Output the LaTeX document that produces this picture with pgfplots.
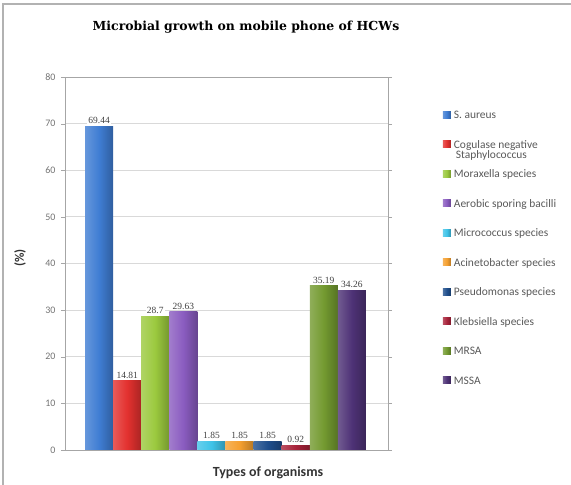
\documentclass[border=0pt]{standalone}
\usepackage{pgfplots}
\pgfplotsset{compat=1.18}
\usepackage{fontspec}
\setmainfont{Carlito}
\newfontfamily\titlefont{DejaVu Serif}
\newfontfamily\labfont{Liberation Serif}
\definecolor{c1}{HTML}{3F7DD3}
\definecolor{c2}{HTML}{E3312F}
\definecolor{c3}{HTML}{9BC93E}
\definecolor{c4}{HTML}{8A5CC0}
\definecolor{c5}{HTML}{3FC3E8}
\definecolor{c6}{HTML}{F5A030}
\definecolor{c7}{HTML}{1F4E8C}
\definecolor{c8}{HTML}{A8233A}
\definecolor{c9}{HTML}{739A30}
\definecolor{c10}{HTML}{4E3276}
\pgfplotsset{bstyle/.style={left color=#1!80!white, right color=#1!75!black, middle color=#1}}
\begin{document}
\begin{tikzpicture}[x=1bp,y=1bp]
\useasboundingbox (0,0) rectangle (571,485);
\draw[gray!60, line width=1.5bp] (3,0) -- (3,481) -- (571,481);
\node[font=\titlefont\bfseries\fontsize{12.5}{14}\selectfont] at (246,458) {Microbial growth on mobile phone of HCWs};
\node[font=\bfseries\fontsize{14}{16}\selectfont, text=black!80] at (268,12) {Types of organisms};
\node[rotate=90, font=\bfseries\fontsize{13}{15}\selectfont, text=black!80] at (20,227) {(\%)};
\begin{axis}[
  at={(65bp,35bp)}, anchor=south west,
  scale only axis, width=323bp, height=373bp,
  ybar, bar width=1, bar shift=0pt,
  xmin=-0.214, xmax=11.286, ymin=0, ymax=80,
  ytick={0,10,...,80}, xtick=\empty,
  ymajorgrids, grid style={gray!30, line width=0.8bp},
  axis line style={gray!70, line width=0.8bp},
  tick style={gray!70}, tick align=outside, major tick length=4bp,
  /pgf/number format/assume math mode=true,
  yticklabel style={font=\fontsize{10}{11}\selectfont, text=black!55, xshift=-2bp},
  every axis plot/.append style={draw=none},
  nodes near coords,
  nodes near coords style={font=\labfont\fontsize{9.5}{10}\selectfont, text=black!75, anchor=south, yshift=1.5bp, fill=white, inner sep=1bp},
  legend style={at={(1.16,0.916)}, anchor=north west, draw=none, fill=none,
    font=\fontsize{11.5}{12}\selectfont, text=black!65, row sep=19.5bp,
    nodes={inner sep=0pt, text height=8bp, text depth=2bp},
    cells={anchor=west}, column sep=3bp},
  legend image code/.code={\fill[#1] (0bp,-2.5bp) rectangle (8bp,4.5bp);},
]
\addplot[bstyle=c1] coordinates {(1,69.44)};
\addplot[bstyle=c2] coordinates {(2,14.81)};
\addplot[bstyle=c3] coordinates {(3,28.7)};
\addplot[bstyle=c4] coordinates {(4,29.63)};
\addplot[bstyle=c5] coordinates {(5,1.85)};
\addplot[bstyle=c6] coordinates {(6,1.85)};
\addplot[bstyle=c7] coordinates {(7,1.85)};
\addplot[bstyle=c8] coordinates {(8,0.92)};
\addplot[bstyle=c9] coordinates {(9,35.19)};
\addplot[bstyle=c10] coordinates {(10,34.26)};
\legend{S. aureus, {\smash{\begin{tabular}[t]{@{}l@{}}Cogulase negative\\[-1bp]\hspace{2bp}Staphylococcus\end{tabular}}}, Moraxella species, Aerobic sporing bacilli, Micrococcus species, Acinetobacter species, Pseudomonas species, Klebsiella species, MRSA, MSSA}
\end{axis}
\end{tikzpicture}
\end{document}
